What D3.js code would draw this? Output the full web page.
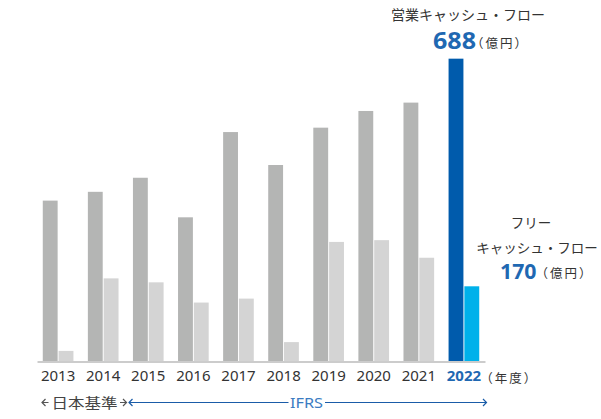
<!DOCTYPE html>
<html>
<head>
<meta charset="utf-8">
<script src="https://cdn.jsdelivr.net/npm/d3@7"></script>
<style>
  html, body { margin: 0; padding: 0; background: #fff; }
  svg { display: block; }
  text { font-family: "Noto Sans", "Noto Sans CJK JP", sans-serif; }
  .jp { font-family: "Noto Sans CJK JP", "Noto Sans", sans-serif; }
  .unit { font-family: "Noto Sans CJK JP", sans-serif; font-size: 12.5px; letter-spacing: 2px; fill: #333; }
</style>
</head>
<body>
<svg id="chart" width="601" height="419"></svg>
<script>
// Fiscal years and cash flows (億円)
const years = ["2013", "2014", "2015", "2016", "2017", "2018", "2019", "2020", "2021", "2022"];
const operatingCF = [365, 385, 417, 327, 521, 446, 531, 569, 588, 688];
const freeCF = [23, 188, 179, 133, 142, 43, 271, 275, 235, 170];
const seriesKeys = ["operating", "free"];
const latestYear = "2022";

const svg = d3.select("#chart");
const baseY = 361;

const x = d3.scaleBand()
  .domain(years)
  .range([37, 485])
  .paddingInner(0.32)
  .paddingOuter(0.128);

const xInner = d3.scaleBand()
  .domain(seriesKeys)
  .range([0, x.bandwidth()])
  .paddingInner(0.06);

const y = d3.scaleLinear().domain([0, 700]).range([baseY, 53.4]);

const rows = years.map((yr, i) => ({ year: yr, operating: operatingCF[i], free: freeCF[i] }));

const colors = {
  operating: yr => yr === latestYear ? "#005bac" : "#b4b5b4",
  free: yr => yr === latestYear ? "#00b1ea" : "#d4d4d4"
};

const groups = svg.append("g").selectAll("g")
  .data(rows)
  .join("g")
  .attr("transform", d => `translate(${x(d.year)},0)`);

groups.selectAll("rect")
  .data(d => seriesKeys.map(k => ({ key: k, year: d.year, value: d[k] })))
  .join("rect")
  .attr("x", d => xInner(d.key))
  .attr("width", xInner.bandwidth())
  .attr("y", d => y(d.value))
  .attr("height", d => baseY - y(d.value))
  .attr("fill", d => colors[d.key](d.year));

// Baseline and year labels
const axis = svg.append("g")
  .attr("transform", `translate(0,${baseY + 0.5})`)
  .call(d3.axisBottom(x).tickSize(0).tickSizeOuter(0).tickPadding(9));
axis.select(".domain").attr("stroke", "#9a9a9a").attr("stroke-width", 1.2);
axis.selectAll(".tick text")
  .attr("font-size", 15)
  .attr("font-family", "'Noto Sans', sans-serif")
  .attr("fill", d => d === latestYear ? "#1f68b2" : "#333")
  .attr("font-weight", d => d === latestYear ? 700 : 400);

const xLast = x(latestYear) + x.bandwidth();
svg.append("text").attr("class", "unit")
  .attr("x", xLast + 1).attr("y", 383)
  .text("（年度）");

// Operating cash flow callout
const cfLatest = operatingCF[years.indexOf(latestYear)];
const fcfLatest = freeCF[years.indexOf(latestYear)];

svg.append("text").attr("class", "jp")
  .attr("x", 468).attr("y", 19.5)
  .attr("text-anchor", "middle")
  .attr("font-size", 14).attr("fill", "#333")
  .text("営業キャッシュ・フロー");

svg.append("text")
  .attr("x", 433).attr("y", 49)
  .attr("font-size", 23).attr("font-weight", 700).attr("fill", "#1f68b2")
  .attr("textLength", 43).attr("lengthAdjust", "spacingAndGlyphs")
  .text(cfLatest);
svg.append("text").attr("class", "unit")
  .attr("x", 471).attr("y", 47.5)
  .text("（億円）");

// Free cash flow callout
svg.append("text").attr("class", "jp")
  .attr("x", 531).attr("y", 228)
  .attr("text-anchor", "middle")
  .attr("font-size", 13.5).attr("fill", "#333")
  .text("フリー");
svg.append("text").attr("class", "jp")
  .attr("x", 537).attr("y", 252.5)
  .attr("text-anchor", "middle")
  .attr("font-size", 13.5).attr("fill", "#333")
  .text("キャッシュ・フロー");

svg.append("text")
  .attr("x", 500).attr("y", 279)
  .attr("font-size", 21).attr("font-weight", 700).attr("fill", "#1f68b2")
  .attr("textLength", 36.5).attr("lengthAdjust", "spacingAndGlyphs")
  .text(fcfLatest);
svg.append("text").attr("class", "unit")
  .attr("x", 535.5).attr("y", 277.5)
  .text("（億円）");

// Accounting standard span markers
const mkY = 402.5;
const grey = "#555";
const small = svg.append("g").attr("fill", "none").attr("stroke", grey).attr("stroke-width", 1.2);
small.append("path").attr("d", `M45.5,${mkY - 3.5} L42,${mkY} L45.5,${mkY + 3.5} M42,${mkY} H48.5`);
small.append("path").attr("d", `M123,${mkY - 3.5} L126.5,${mkY} L123,${mkY + 3.5} M126.5,${mkY} H120`);
svg.append("text").attr("class", "jp")
  .attr("x", 51.5).attr("y", mkY + 5)
  .attr("font-size", 14).attr("fill", "#444")
  .attr("textLength", 66).attr("lengthAdjust", "spacingAndGlyphs")
  .text("日本基準");

const blue = "#1a5ca8";
const ifrs = svg.append("g").attr("fill", "none").attr("stroke", blue).attr("stroke-width", 1.2);
ifrs.append("path").attr("d", `M132.5,${mkY - 3.5} L129,${mkY} L132.5,${mkY + 3.5} M129,${mkY} H288.5`);
ifrs.append("path").attr("d", `M325,${mkY} H486.5 M483,${mkY - 3.5} L486.5,${mkY} L483,${mkY + 3.5}`);
svg.append("text")
  .attr("x", 290).attr("y", mkY + 5)
  .attr("font-size", 13.5).attr("fill", "#3b7cc2")
  .attr("textLength", 33).attr("lengthAdjust", "spacingAndGlyphs")
  .text("IFRS");
</script>
</body>
</html>
